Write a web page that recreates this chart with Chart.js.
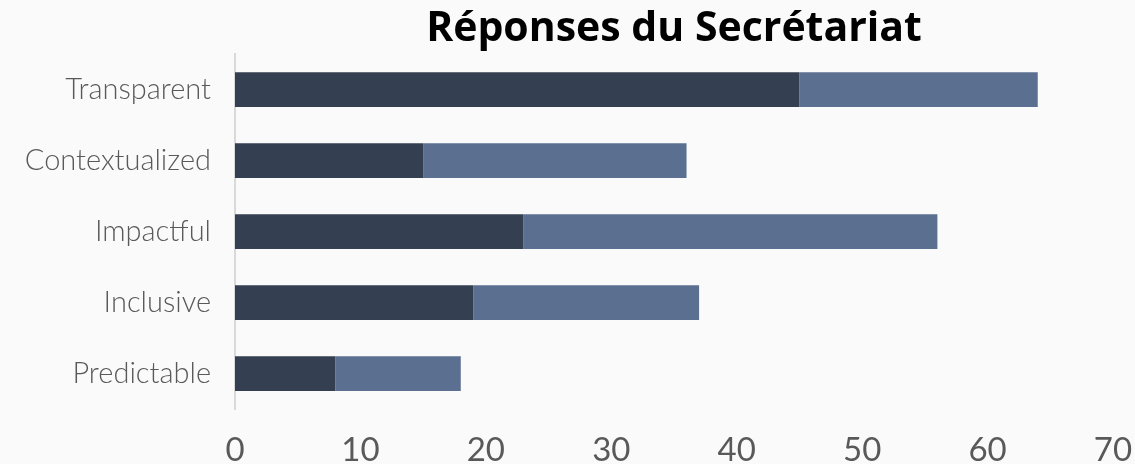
<!DOCTYPE html>
<html><head><meta charset="utf-8">
<script src="https://cdn.jsdelivr.net/npm/chart.js@4"></script>
<style>html,body{margin:0;padding:0;background:#fafafa;}#wrap{width:1135px;height:464px;}</style>
</head><body><div id="wrap"><canvas id="c" width="1135" height="464"></canvas></div>
<script>
const categories = ["Transparent","Contextualized","Impactful","Inclusive","Predictable"];
const seriesA = [45,15,23,19,8];
const seriesB = [19,21,33,18,10];
const xTicks = [0,10,20,30,40,50,60,70];
const titleText = "Réponses du Secrétariat";

new Chart(document.getElementById('c'), {
  type: 'bar',
  data: {
    labels: categories,
    datasets: [
      {label: 'A', data: seriesA, backgroundColor: '#343f52', barPercentage: 0.49, categoryPercentage: 1.0},
      {label: 'B', data: seriesB, backgroundColor: '#5b7090', barPercentage: 0.49, categoryPercentage: 1.0}
    ]
  },
  options: {
    indexAxis: 'y',
    responsive: false,
    animation: false,
    layout: {padding: {left: 0, right: 22, top: 5, bottom: 0}},
    plugins: {
      legend: {display: false},
      tooltip: {enabled: false},
      title: {display: true, text: titleText, fullSize: false, color: '#000000',
        font: {family: 'Open Sans', size: 41, weight: 'bold', lineHeight: 1.2}, padding: {top: 0, bottom: 0}}
    },
    scales: {
      x: {
        stacked: true, min: 0, max: 70,
        afterBuildTicks: s => { s.ticks = xTicks.map(v => ({value: v})); },
        grid: {display: false},
        border: {display: false},
        ticks: {color: '#595959', font: {family: 'Lato', size: 33}, padding: 14, maxRotation: 0},
        afterFit: s => { s.height = 55; s.paddingLeft = 0; s.paddingRight = 0; }
      },
      y: {
        stacked: true,
        grid: {display: false},
        border: {display: true, color: '#d9d9d9', width: 2},
        ticks: {color: '#595959', font: {family: 'Lato', size: 29, weight: 300}, padding: 16},
        afterFit: s => { s.width = 235; }
      }
    }
  }
});
</script></body></html>
